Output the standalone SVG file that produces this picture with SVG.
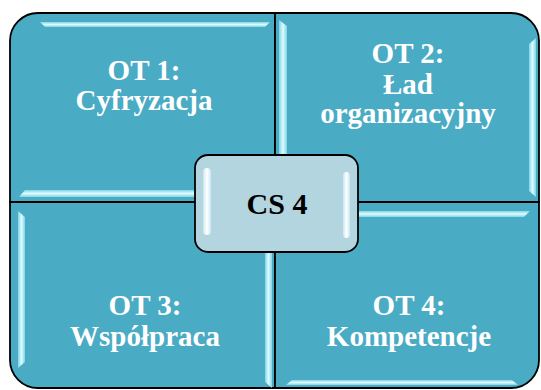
<svg xmlns="http://www.w3.org/2000/svg" width="541" height="390" viewBox="0 0 541 390">
<defs>
<linearGradient id="hv" x1="0" y1="0" x2="0" y2="1">
<stop offset="0" stop-color="#7fd6e6"/><stop offset="0.5" stop-color="#dffaff"/><stop offset="1" stop-color="#7fd6e6"/>
</linearGradient>
<linearGradient id="vh" x1="0" y1="0" x2="1" y2="0">
<stop offset="0" stop-color="#7fd6e6"/><stop offset="0.5" stop-color="#dffaff"/><stop offset="1" stop-color="#7fd6e6"/>
</linearGradient>
<linearGradient id="cv" x1="0" y1="0" x2="1" y2="0">
<stop offset="0" stop-color="#c8e8f0"/><stop offset="0.5" stop-color="#ffffff"/><stop offset="1" stop-color="#c8e8f0"/>
</linearGradient>
</defs>
<style>
.q{fill:#4aabc4;stroke:#000;stroke-width:1.8;stroke-linejoin:round}
.t{font-family:"Liberation Serif","Times New Roman",serif;font-weight:bold;font-size:29px;fill:#fff;text-anchor:middle}
.c{font-family:"Liberation Serif","Times New Roman",serif;font-weight:bold;font-size:30px;fill:#000;text-anchor:middle}
.h{fill:url(#hv)}
.v{fill:url(#vh)}
</style>
<g id="ot1">
<path class="q" d="M10,202 V41 A28,28 0 0 1 38,13 H275 V202 Z"/>
<polygon class="h" points="40,22 270,22 265,27 45,27"/>
<polygon class="h" points="25,190 270,190 270,197 19,197"/>
<text class="t" x="144" y="80">OT 1:</text>
<text class="t" x="144" y="110">Cyfryzacja</text>
</g>
<g id="ot2">
<path class="q" d="M275,202 V13 H511 A28,28 0 0 1 539,41 V202 Z"/>
<polygon class="v" points="279,20 287,26 287,190 279,196"/>
<polygon class="v" points="529,44 536,38 536,197 529,191"/>
<text class="t" x="408" y="63">OT 2:</text>
<text class="t" x="408" y="94">Ład</text>
<text class="t" x="408" y="123">organizacyjny</text>
</g>
<g id="ot3">
<path class="q" d="M10,202 H275 V388 H38 A28,28 0 0 1 10,360 Z"/>
<polygon class="v" points="18,211 25,217 25,362 18,368"/>
<polygon class="v" points="265,210 272,206 272,388 265,382"/>
<text class="t" x="145" y="315">OT 3:</text>
<text class="t" x="145" y="346">Współpraca</text>
</g>
<g id="ot4">
<path class="q" d="M275,202 H539 V360 A28,28 0 0 1 511,388 H275 Z"/>
<polygon class="h" points="278,211 530,211 524,217 284,217"/>
<polygon class="h" points="292,380 512,380 518,385 286,385"/>
<text class="t" x="409" y="315">OT 4:</text>
<text class="t" x="409" y="346">Kompetencje</text>
</g>
<g id="connectors"></g>
<g id="cs4">
<rect x="195" y="155" width="163" height="97" rx="13" fill="#b3d5e0" stroke="#000" stroke-width="1.8"/>
<rect x="203" y="168" width="8" height="67" rx="4" fill="url(#cv)"/>
<rect x="343" y="172" width="7" height="66" rx="3.5" fill="url(#cv)"/>
<text class="c" x="277" y="214">CS 4</text>
</g>
</svg>
